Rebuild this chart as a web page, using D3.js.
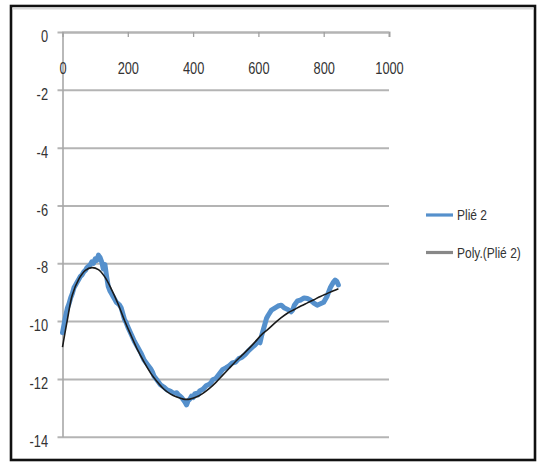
<!DOCTYPE html>
<html>
<head>
<meta charset="utf-8">
<script src="https://cdn.jsdelivr.net/npm/d3@7"></script>
<style>
  html, body { margin: 0; padding: 0; background: #fff; }
  svg { display: block; }
  .lbl { font-family: "Liberation Sans", Arial, sans-serif; fill: #333; }
</style>
</head>
<body>
<svg id="chart" width="539" height="462"></svg>
<script>
// Measured series "Plié 2": position (x) and value (y)
const pliePos = [0,5,10,15,20,25,30,35,40,45,50,55,60,65,70,75,80,85,90,95,100,105,110,115,120,125,130,135,140,145,150,155,160,165,170,175,180,185,190,195,200,210,220,230,240,250,260,270,275,280,290,300,310,320,330,340,350,355,360,365,370,375,380,385,390,395,400,405,410,415,420,430,440,450,455,460,470,480,490,500,510,520,530,540,550,560,570,580,590,600,605,610,615,620,625,630,640,650,660,670,680,690,700,705,710,720,730,740,750,760,770,780,790,800,810,815,820,830,835,840,845];
const plieVal = [-10.4,-10.1,-9.8,-9.55,-9.4,-9.2,-9.05,-8.85,-8.75,-8.65,-8.55,-8.45,-8.4,-8.3,-8.25,-8.15,-8.1,-8.05,-7.95,-8.0,-7.85,-7.9,-7.72,-7.8,-7.95,-8.2,-8.05,-8.45,-8.8,-8.95,-9.05,-9.15,-9.25,-9.35,-9.4,-9.45,-9.55,-9.75,-9.95,-10.05,-10.2,-10.45,-10.7,-10.9,-11.1,-11.35,-11.5,-11.65,-11.75,-11.9,-12.05,-12.2,-12.28,-12.38,-12.42,-12.5,-12.48,-12.55,-12.6,-12.65,-12.72,-12.8,-12.9,-12.75,-12.7,-12.6,-12.65,-12.52,-12.5,-12.55,-12.42,-12.36,-12.24,-12.18,-12.13,-12.03,-11.98,-11.83,-11.68,-11.62,-11.55,-11.45,-11.42,-11.3,-11.25,-11.15,-11.02,-10.92,-10.82,-10.7,-10.75,-10.5,-10.3,-10.1,-9.9,-9.8,-9.62,-9.55,-9.48,-9.45,-9.55,-9.6,-9.68,-9.62,-9.45,-9.3,-9.27,-9.2,-9.22,-9.28,-9.38,-9.45,-9.4,-9.35,-9.15,-9.0,-8.85,-8.65,-8.58,-8.62,-8.75];

// Polynomial trend "Poly.(Plié 2)"
const trendPos = [0,15,30,50,70,90,110,130,150,170,190,210,230,250,270,290,310,330,350,370,390,410,430,450,470,490,510,530,550,570,590,610,630,650,670,690,710,730,750,770,790,810,830,845];
const trendVal = [-10.9,-9.95,-9.1,-8.55,-8.25,-8.15,-8.22,-8.48,-8.9,-9.4,-9.98,-10.5,-11.0,-11.42,-11.8,-12.1,-12.35,-12.52,-12.63,-12.7,-12.7,-12.63,-12.5,-12.33,-12.12,-11.88,-11.64,-11.4,-11.18,-10.96,-10.72,-10.47,-10.28,-10.07,-9.88,-9.72,-9.6,-9.48,-9.37,-9.26,-9.15,-9.05,-8.95,-8.88];

const xTicks = [0,200,400,600,800,1000];
const yTicks = [0,-2,-4,-6,-8,-10,-12,-14];
const seriesNames = ["Plié 2", "Poly.(Plié 2)"];
const seriesColors = ["#5590cc", "#888888"];

const svg = d3.select("#chart");

// condensed look for labels: squeeze each text to a fraction of its natural width
function condense(sel, k) {
  sel.each(function () {
    const w = this.getComputedTextLength();
    d3.select(this).attr("textLength", w * k).attr("lengthAdjust", "spacingAndGlyphs");
  });
}

// outer frame
svg.append("rect").attr("x", 11).attr("y", 6).attr("width", 524).attr("height", 454)
  .attr("fill", "#fff").attr("stroke", "#111").attr("stroke-width", 2.6);
svg.append("line").attr("x1", 12.5).attr("x2", 533.5).attr("y1", 8.6).attr("y2", 8.6)
  .attr("stroke", "#d8d8d8").attr("stroke-width", 2);

const x = d3.scaleLinear().domain([0, 1000]).range([62.5, 389]);
const y = d3.scaleLinear().domain([-14, 0]).range([436.7, 32]);
const fmt = d => String(d);

// horizontal gridlines with left tick stubs
const grid = svg.append("g").attr("transform", `translate(${x(0)},0)`)
  .call(d3.axisLeft(y).tickValues(yTicks).tickSize(-(x(1000) - x(0))).tickFormat(""));
grid.select(".domain").remove();
grid.selectAll(".tick line").attr("stroke", "#b4b4b4").attr("stroke-width", 2).attr("x1", -5).attr("x2", x(1000) - x(0));

// y axis labels
const yAxis = svg.append("g").attr("transform", `translate(${x(0)},0)`)
  .call(d3.axisLeft(y).tickValues(yTicks).tickSize(0).tickFormat(fmt));
yAxis.select(".domain").attr("stroke", "#a8a8a8").attr("stroke-width", 1.6);
yAxis.selectAll(".tick text").attr("class", "lbl").attr("font-size", 16)
  .attr("x", -14.5).attr("dy", "0.6em").attr("text-anchor", "end")
  .call(condense, 0.8);

// x axis along y = 0 with ticks pointing down, labels below
const xAxis = svg.append("g").attr("transform", `translate(0,${y(0)})`)
  .call(d3.axisBottom(x).tickValues(xTicks).tickSize(5).tickFormat(fmt));
xAxis.select(".domain").attr("stroke", "#b4b4b4").attr("stroke-width", 2);
xAxis.selectAll(".tick line").attr("stroke", "#a0a0a0").attr("stroke-width", 1.3);
xAxis.selectAll(".tick text").attr("class", "lbl").attr("font-size", 16)
  .attr("y", 36).attr("dy", "0.35em").attr("text-anchor", "middle")
  .call(condense, 0.8);

// data series
const plie = pliePos.map((p, i) => [p, plieVal[i]]);
const trend = trendPos.map((p, i) => [p, trendVal[i]]);

svg.append("path").datum(plie)
  .attr("fill", "none").attr("stroke", seriesColors[0]).attr("stroke-width", 5)
  .attr("stroke-linejoin", "round").attr("stroke-linecap", "round")
  .attr("d", d3.line().x(d => x(d[0])).y(d => y(d[1])));

svg.append("path").datum(trend)
  .attr("fill", "none").attr("stroke", "#1a1a1a").attr("stroke-width", 1.6)
  .attr("d", d3.line().curve(d3.curveCatmullRom).x(d => x(d[0])).y(d => y(d[1])));

// legend
const legend = svg.append("g");
const legY = [215, 252.5];
seriesNames.forEach((name, i) => {
  legend.append("line").attr("x1", 426).attr("x2", 453).attr("y1", legY[i]).attr("y2", legY[i])
    .attr("stroke", seriesColors[i]).attr("stroke-width", 3.2);
  legend.append("text").attr("class", "lbl").attr("font-size", 15)
    .attr("x", 457).attr("y", legY[i]).attr("dy", "0.35em").text(name)
    .call(condense, 0.8);
});
</script>
</body>
</html>
